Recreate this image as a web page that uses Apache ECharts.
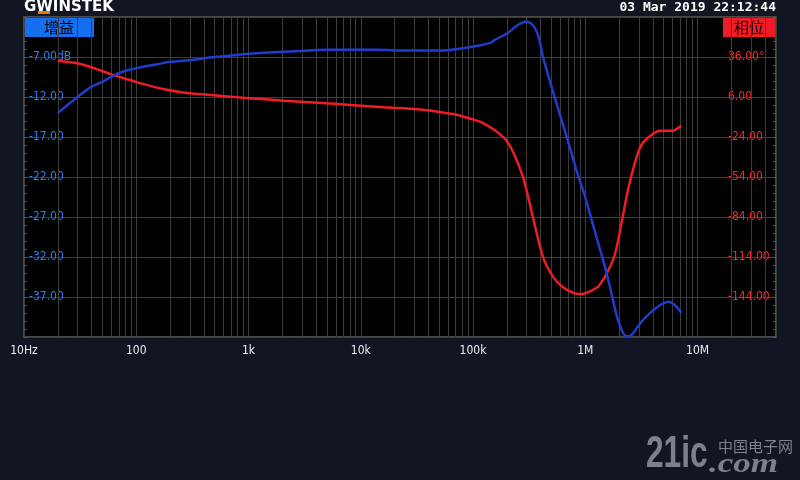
<!DOCTYPE html>
<html>
<head>
<meta charset="utf-8">
<script src="https://cdn.jsdelivr.net/npm/echarts@6/dist/echarts.min.js"></script>
<style>
html,body{margin:0;padding:0;background:#121623;}
#chart{width:800px;height:480px;}
</style>
</head>
<body>
<div id="chart"></div>
<script>
// Frequency axis (Hz)
const freqMin = 10;
const freqMax = 50000000;
const freqTickLabels = {1:'10Hz',2:'100',3:'1k',4:'10k',5:'100k',6:'1M',7:'10M'};
const minorGridMultipliers = [2,3,4,5,6,7,8,9];

// Gain (dB)
const gainFreq = [20,30,40,50,60,73,100,155,200,300,464,700,1000,2370,5050,14500,25000,51800,73000,110000,145000,155000,204000,251000,297000,341000,378000,405000,419000,532000,691000,860000,986000,1130000,1440000,1540000,1710000,1960000,2320000,2580000,3160000,4160000,5470000,6270000,7190000];
const gainDb   = [-14.0,-12.0,-10.7,-10.1,-9.46,-8.9,-8.4,-7.9,-7.6,-7.4,-7.04,-6.8,-6.6,-6.3,-6.1,-6.1,-6.2,-6.2,-6.0,-5.6,-5.2,-4.9,-4.0,-3.0,-2.6,-3.0,-4.2,-5.9,-6.96,-11.96,-17.2,-21.75,-24.25,-27.2,-32.4,-33.9,-36.5,-39.9,-41.9,-41.75,-40.1,-38.5,-37.6,-38.0,-39.0];

// Phase (deg)
const phaseFreq = [20,30,45,60,78,110,178,268,464,802,1100,2066,4100,8150,16150,32060,48400,73000,96000,118000,155000,197000,234000,278000,308000,341000,419000,515000,633000,802000,920000,1042000,1300000,1390000,1540000,1830000,2100000,2400000,2760000,3160000,3880000,4600000,6070000,6490000,7190000];
const phaseDeg  = [33,31.25,26.75,23,20,16.25,11.75,9.25,7.5,5.75,4.9,3.25,1.75,0,-1.75,-3.25,-5,-7.5,-10.5,-12.8,-18.75,-26.25,-37.5,-53.75,-68,-83.75,-113.75,-128.75,-136.75,-141.25,-141.75,-140.75,-136.25,-133,-127,-112.5,-88.75,-63.75,-43.75,-30,-22.5,-19.25,-19.25,-18,-15.5];

// Left axis (dB) and right axis (deg) ranges
const gainMin = -42, gainMax = -2, gainStep = 5;
const phaseMin = -174, phaseMax = 66, phaseStep = 30;

const gainData = gainFreq.map((f, i) => [f, gainDb[i]]);
const phaseData = phaseFreq.map((f, i) => [f, phaseDeg[i]]);

const minorGridFreqs = [];
for (let d = 1; d <= 7; d++) {
  minorGridMultipliers.forEach(m => {
    const v = m * Math.pow(10, d);
    if (v < freqMax) minorGridFreqs.push(v);
  });
}

const gridColor = '#3d3d3d';
const labelFont = '"DejaVu Sans Condensed", "DejaVu Sans", sans-serif';
const chart = echarts.init(document.getElementById('chart'), null, {renderer: 'canvas'});
chart.setOption({
  backgroundColor: '#121623',
  animation: false,
  grid: {left: 24, right: 24, top: 17, bottom: 143, show: true, backgroundColor: '#000', borderColor: '#4a4a4a', borderWidth: 2},
  xAxis: {
    type: 'log', logBase: 10, min: freqMin, max: freqMax, interval: 1,
    axisLine: {show: false}, axisTick: {show: false},
    splitLine: {show: true, lineStyle: {color: gridColor, width: 1}},
    axisLabel: {
      color: '#ececec', fontSize: 12, margin: 8, fontFamily: labelFont,
      showMaxLabel: false,
      formatter: v => {
        const l = Math.log10(v), k = Math.round(l);
        return Math.abs(l - k) < 1e-6 && freqTickLabels[k] ? freqTickLabels[k] : '';
      }
    }
  },
  yAxis: [{
    type: 'value', min: gainMin, max: gainMax, interval: gainStep,
    axisLine: {show: false},
    axisTick: {show: true, inside: true, length: 3, lineStyle: {color: '#5a5a5a'}},
    minorTick: {show: true, splitNumber: 5, length: 3, lineStyle: {color: '#5a5a5a'}},
    splitLine: {show: true, lineStyle: {color: gridColor, width: 1}},
    axisLabel: {
      inside: true, margin: 5, color: '#2a7df5', fontSize: 12, fontFamily: labelFont,
      formatter: v => {
        if (v <= gainMin || v >= gainMax) return '';
        return v === -7 ? v.toFixed(2) + 'dB' : v.toFixed(2);
      }
    }
  }, {
    type: 'value', min: phaseMin, max: phaseMax, interval: phaseStep,
    axisLine: {show: false},
    axisTick: {show: true, inside: true, length: 3, lineStyle: {color: '#5a5a5a'}},
    minorTick: {show: true, splitNumber: 5, length: 3, lineStyle: {color: '#5a5a5a'}},
    splitLine: {show: false},
    axisLabel: {
      inside: true, margin: 48, align: 'left', color: '#f52a30', fontSize: 12, fontFamily: labelFont,
      formatter: v => {
        if (v <= phaseMin || v >= phaseMax) return '';
        return v === 36 ? v.toFixed(2) + '°' : v.toFixed(2);
      }
    }
  }],
  series: [{
    type: 'line', data: [], z: 1, silent: true,
    markLine: {
      silent: true, z: 1, symbol: ['none', 'none'], animation: false,
      label: {show: false},
      lineStyle: {color: gridColor, type: 'solid', width: 1},
      emphasis: {disabled: true},
      data: minorGridFreqs.map(f => ({xAxis: f}))
    }
  }, {
    name: '相位', type: 'line', yAxisIndex: 1, data: phaseData,
    showSymbol: false, smooth: 0.3, z: 3,
    lineStyle: {color: '#ee1c24', width: 2.5}
  }, {
    name: '增益', type: 'line', yAxisIndex: 0, data: gainData,
    showSymbol: false, smooth: 0.3, z: 4,
    lineStyle: {color: '#1f3ccb', width: 2.5}
  }],
  graphic: [
    {type: 'text', x: 24, y: 7, style: {text: 'GWINSTEK', fill: '#ffffff', font: 'bold 15px "DejaVu Sans", sans-serif', verticalAlign: 'middle'}},
    {type: 'rect', shape: {x: 38, y: 11, width: 12, height: 3}, style: {fill: '#e07a1a'}},
    {type: 'text', right: 24, top: 1, style: {text: '03 Mar 2019 22:12:44', fill: '#ffffff', font: 'bold 13px "DejaVu Sans Mono", monospace'}},
    {type: 'rect', shape: {x: 25, y: 17, width: 69, height: 20}, style: {fill: '#1570f0'}},
    {type: 'text', x: 59, y: 27, style: {text: '增益', fill: '#000', font: '15px "Noto Sans CJK SC"', align: 'center', verticalAlign: 'middle'}},
    {type: 'rect', shape: {x: 723, y: 17, width: 52, height: 20}, style: {fill: '#ee1c24'}},
    {type: 'text', x: 749, y: 27, style: {text: '相位', fill: '#000', font: '15px "Noto Sans CJK SC"', align: 'center', verticalAlign: 'middle'}},
    {type: 'text', x: 646, y: 455, scaleX: 0.72, style: {text: '21ic', fill: '#7e818a', font: 'bold 44px "Liberation Sans", sans-serif', verticalAlign: 'middle'}},
    {type: 'text', x: 718, y: 446, style: {text: '中国电子网', fill: '#7e818a', font: '15px "Noto Sans CJK SC"', verticalAlign: 'middle'}},
    {type: 'text', x: 709, y: 465, scaleX: 1.25, style: {text: '.com', fill: '#7e818a', font: 'italic bold 28px "Liberation Serif", serif', verticalAlign: 'middle'}}
  ]
});
</script>
</body>
</html>
